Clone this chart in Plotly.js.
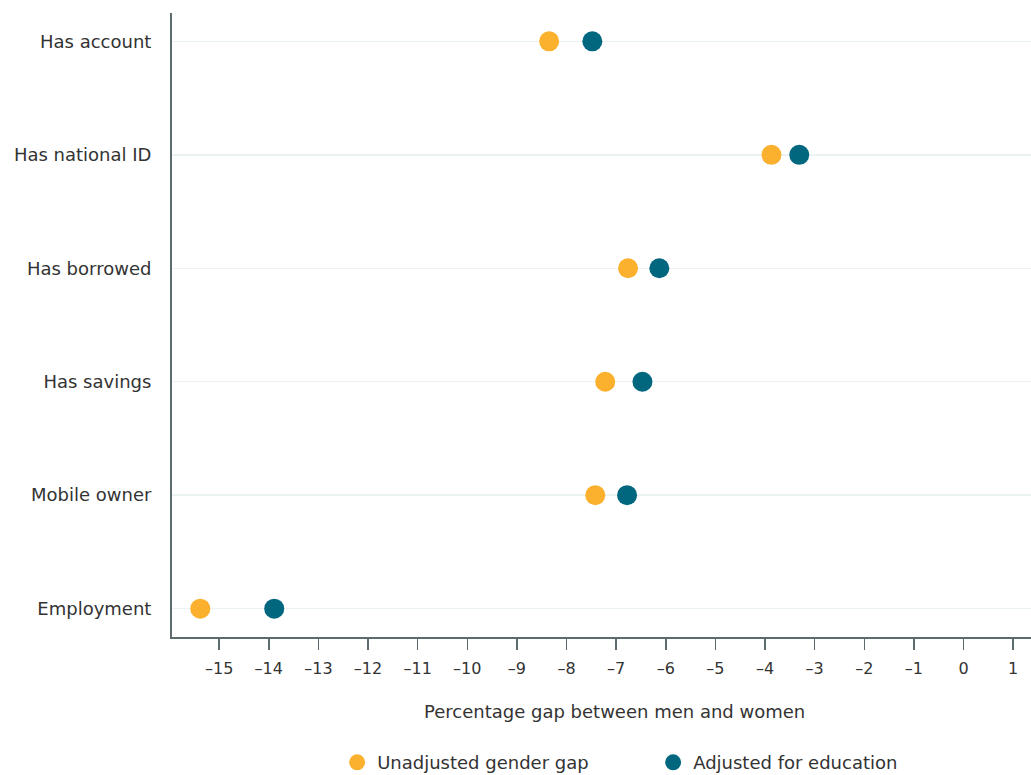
<!DOCTYPE html>
<html>
<head>
<meta charset="utf-8">
<script src="https://cdn.plot.ly/plotly-3.0.1.min.js"></script>
<style>html,body{margin:0;padding:0;background:#fff;}#chart{width:1031px;height:775px;}</style>
</head>
<body>
<div id="chart"></div>
<script>
const categories = ["Has account", "Has national ID", "Has borrowed", "Has savings", "Mobile owner", "Employment"];
const unadjusted = [-8.35, -3.87, -6.76, -7.22, -7.42, -15.38];
const adjusted = [-7.48, -3.31, -6.13, -6.47, -6.78, -13.89];
const xTicks = [-15, -14, -13, -12, -11, -10, -9, -8, -7, -6, -5, -4, -3, -2, -1, 0, 1];
const seriesNames = ["Unadjusted gender gap", "Adjusted for education"];
const seriesColors = ["#FBB12E", "#00677F"];
const xTitle = "Percentage gap between men and women";

const font = "'DejaVu Sans', sans-serif";
const traces = [
  {x: unadjusted, y: categories, name: seriesNames[0], type: "scatter", mode: "markers",
   marker: {size: 20, color: seriesColors[0]}, cliponaxis: false},
  {x: adjusted, y: categories, name: seriesNames[1], type: "scatter", mode: "markers",
   marker: {size: 20, color: seriesColors[1]}, cliponaxis: false}
];
const layout = {
  width: 1031, height: 775,
  margin: {l: 172, r: 0, t: 13, b: 138, autoexpand: false},
  paper_bgcolor: "#fff", plot_bgcolor: "#fff",
  font: {family: font, size: 18, color: "#333"},
  showlegend: true,
  legend: {orientation: "h", xref: "container", yref: "container", x: 0.327, xanchor: "left",
           y: 0.016, yanchor: "middle", entrywidth: 271,
           font: {size: 18, color: "#333"}, itemwidth: 30, tracegroupgap: 0},
  annotations: [{text: xTitle, xref: "paper", yref: "paper", x: 0.5146, y: -0.1186,
                 xanchor: "center", yanchor: "middle", showarrow: false,
                 font: {size: 18, color: "#333"}}],
  xaxis: {
    range: [-15.95, 1.36], tickvals: xTicks, ticktext: xTicks.map(v => v < 0 ? "\u2013" + Math.abs(v) : String(v)),
    showgrid: false, zeroline: false, showline: true, linecolor: "#5e6b6e", linewidth: 2,
    ticks: "outside", ticklen: 11, tickwidth: 1.5, tickcolor: "#5e6b6e",
    tickfont: {size: 16, color: "#333"}, automargin: false, ticklabelstandoff: 5
  },
  yaxis: {
    type: "category", categoryorder: "array", categoryarray: categories,
    range: [5.25, -0.25], autorange: false, automargin: false,
    showgrid: true, gridcolor: "#EAF3F2", gridwidth: 1.5, zeroline: false,
    showline: true, linecolor: "#5e6b6e", linewidth: 2,
    ticks: "outside", ticklen: 15, tickcolor: "rgba(0,0,0,0)",
    tickfont: {size: 18, color: "#333"}
  }
};
Plotly.newPlot("chart", traces, layout, {displayModeBar: false, staticPlot: true});
</script>
</body>
</html>
